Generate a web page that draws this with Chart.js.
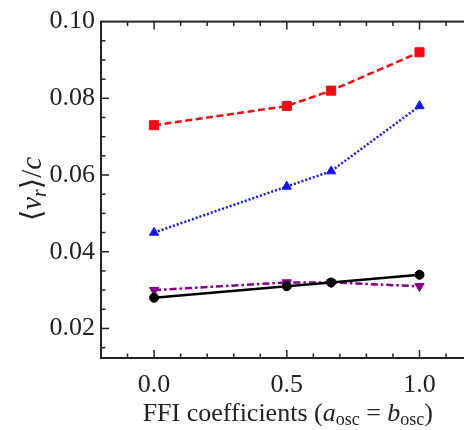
<!DOCTYPE html>
<html>
<head>
<meta charset="utf-8">
<script src="https://cdn.jsdelivr.net/npm/chart.js@4/dist/chart.umd.min.js"></script>
<style>
  html, body { margin: 0; padding: 0; background: #fff; overflow: hidden; }
  #wrap { width: 480px; height: 430px; }
</style>
</head>
<body>
<div id="wrap"><canvas id="c" width="480" height="430"></canvas></div>
<script>
// FFI coefficient values (a_osc = b_osc)
const coeffs = [0.0, 0.5, 0.667, 1.0];

// mean radial velocity <v_r>/c for each run
const redSquares    = [0.073, 0.078, 0.082, 0.092];
const blueTriangles = [0.045, 0.057, 0.061, 0.078];
const purpleDown    = [0.030, 0.032, 0.032, 0.031];
const blackCircles  = [0.028, 0.031, 0.032, 0.034];

// axis tick labels
const xTicks = [0.0, 0.5, 1.0];
const yTicks = [0.02, 0.04, 0.06, 0.08, 0.10];

const serif = '"Liberation Serif", "DejaVu Serif", serif';
const ink = '#222';

function pts(ys) { return coeffs.map((x, i) => ({ x: x, y: ys[i] })); }

// frame, inward ticks (major + minor, mirrored) and the math-style axis titles
const framePlugin = {
  id: 'frame',
  beforeDatasetsDraw(chart) {
    const { ctx, chartArea: a, scales: { x, y } } = chart;
    ctx.save();
    ctx.strokeStyle = ink;
    ctx.lineWidth = 2;
    ctx.strokeRect(a.left, a.top, a.right - a.left, a.bottom - a.top);
    ctx.lineWidth = 1.5;
    const tick = (x0, y0, x1, y1) => { ctx.beginPath(); ctx.moveTo(x0, y0); ctx.lineTo(x1, y1); ctx.stroke(); };
    // x ticks
    for (let k = -1; k <= 11; k++) {
      const v = k / 10;
      const px = x.getPixelForValue(v);
      const major = k % 5 === 0;
      const len = major ? 8 : 4.5;
      tick(px, a.bottom, px, a.bottom - len);
      tick(px, a.top, px, a.top + len);
    }
    // y ticks
    for (let k = 3; k <= 19; k++) {
      const v = k * 0.005;
      const py = y.getPixelForValue(v);
      const major = k % 4 === 0;
      const len = major ? 8 : 4.5;
      tick(a.left, py, a.left + len, py);
      tick(a.right, py, a.right - len, py);
    }
    ctx.restore();
  },
  afterDraw(chart) {
    const { ctx, chartArea: a } = chart;
    ctx.save();
    ctx.fillStyle = ink;
    ctx.textBaseline = 'alphabetic';

    // draws a run of styled segments centred on cx at baseline by
    const drawRuns = (runs, cx, by) => {
      let total = 0;
      runs.forEach(r => { ctx.font = r.font; r.w = ctx.measureText(r.t).width; total += r.w; });
      let px = cx - total / 2;
      runs.forEach(r => {
        ctx.font = r.font;
        ctx.fillText(r.t, px, by + (r.dy || 0));
        px += r.w;
      });
    };

    const N = '26px ' + serif, I = 'italic 26px ' + serif, S = '18px ' + serif;
    drawRuns([
      { t: 'FFI coefficients (', font: N },
      { t: 'a', font: I },
      { t: 'osc', font: S, dy: 4 },
      { t: ' = ', font: N },
      { t: 'b', font: I },
      { t: 'osc', font: S, dy: 4 },
      { t: ')', font: N }
    ], (a.left + a.right) / 2 + 1, 421);

    ctx.translate(41, 189);
    ctx.rotate(-Math.PI / 2);
    const N2 = '29px ' + serif, I2 = 'italic 29px ' + serif, S2 = 'italic 20px ' + serif;
    drawRuns([
      { t: '\u27E8', font: N2 },
      { t: 'v', font: I2 },
      { t: 'r', font: S2, dy: 5 },
      { t: '\u27E9/', font: N2 },
      { t: 'c', font: I2 }
    ], 0, 0);
    ctx.restore();
  }
};

const ds = (label, ys, color, style, dash, radius, rot) => ({
  label: label,
  data: pts(ys),
  borderColor: color,
  backgroundColor: color,
  pointBackgroundColor: color,
  pointBorderColor: color,
  borderWidth: 2.5,
  borderDash: dash,
  pointStyle: style,
  pointRadius: radius,
  pointRotation: rot || 0,
  pointBorderWidth: 1,
  tension: 0,
  showLine: true
});

new Chart(document.getElementById('c'), {
  type: 'scatter',
  data: {
    datasets: [
      ds('black', blackCircles, '#000000', 'circle', [], 4.5),
      ds('purple', purpleDown, '#86008a', 'triangle', [7, 3, 2.5, 3], 5.3, 180),
      ds('blue', blueTriangles, '#1414f0', 'triangle', [2, 2], 5.3),
      ds('red', redSquares, '#f50a14', 'rect', [7, 3.5], 6.4)
    ]
  },
  plugins: [framePlugin],
  options: {
    responsive: false,
    animation: false,
    devicePixelRatio: 1,
    layout: { padding: { left: 0, top: 15, right: 7, bottom: 0 } },
    plugins: { legend: { display: false }, tooltip: { enabled: false } },
    scales: {
      x: {
        type: 'linear',
        min: -0.2,
        max: 1.2,
        afterBuildTicks: s => { s.ticks = xTicks.map(v => ({ value: v })); },
        afterFit: s => { s.height = 72; },
        grid: { display: false, drawTicks: false },
        border: { display: false },
        ticks: {
          padding: 12,
          color: ink,
          font: { family: serif, size: 26 },
          callback: v => Number(v).toFixed(1)
        }
      },
      y: {
        type: 'linear',
        min: 0.0123,
        max: 0.10,
        afterBuildTicks: s => { s.ticks = yTicks.map(v => ({ value: v })); },
        afterFit: s => { s.width = 101; },
        grid: { display: false, drawTicks: false },
        border: { display: false },
        ticks: {
          padding: 6,
          color: ink,
          font: { family: serif, size: 26 },
          callback: v => Number(v).toFixed(2)
        }
      }
    }
  }
});
</script>
</body>
</html>
